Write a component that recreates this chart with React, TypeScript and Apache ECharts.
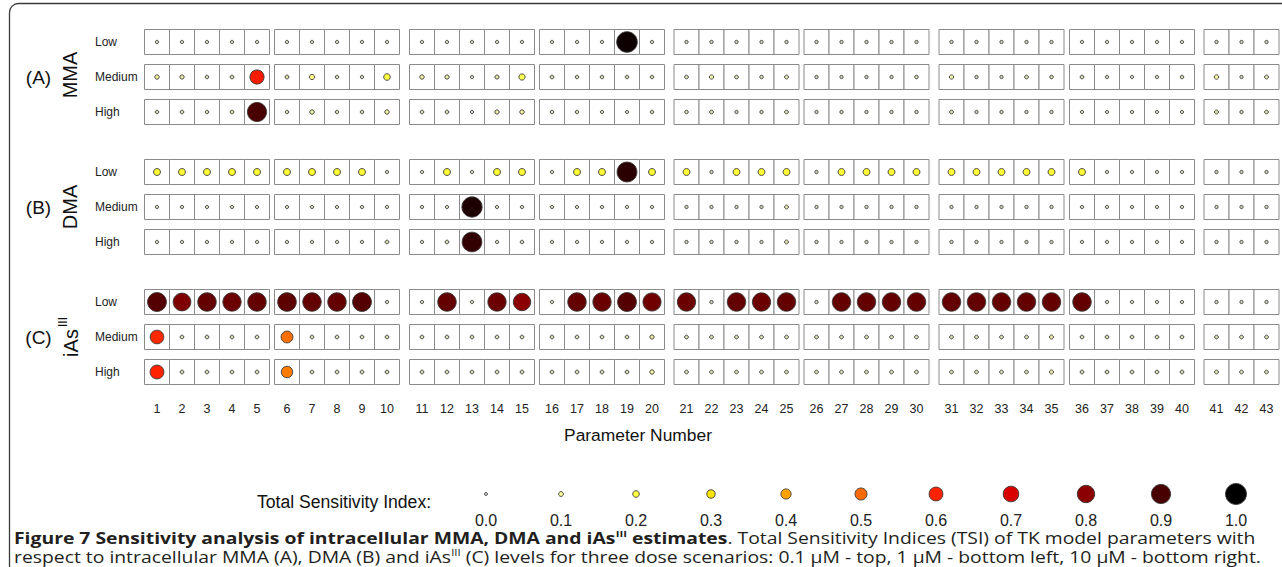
import React, { useEffect, useRef } from 'react';
import * as echarts from 'echarts';

const paramNumbers = ['1','2','3','4','5','6','7','8','9','10','11','12','13','14','15','16','17','18','19','20','21','22','23','24','25','26','27','28','29','30','31','32','33','34','35','36','37','38','39','40','41','42','43'];
const blockSizes = [5, 5, 5, 5, 5, 5, 5, 5, 3];
const doseLevels = ['Low', 'Medium', 'High'];
const groupTags = ['(A)', '(B)', '(C)'];
const groupNames = ['MMA', 'DMA', 'iAs'];

const mmaLow = [0.02,0.02,0.02,0.02,0.02, 0.02,0.02,0.02,0.02,0.02, 0.02,0.02,0.02,0.02,0.02, 0.02,0.02,0.02,0.98,0.02, 0.02,0.02,0.02,0.02,0.02, 0.02,0.02,0.02,0.02,0.02, 0.02,0.02,0.02,0.02,0.02, 0.02,0.02,0.02,0.02,0.02, 0.02,0.02,0.02];
const mmaMedium = [0.08,0.07,0.03,0.04,0.62, 0.05,0.12,0.03,0.02,0.2, 0.08,0.07,0.02,0.06,0.18, 0.04,0.03,0.03,0.03,0.03, 0.04,0.07,0.04,0.03,0.05, 0.02,0.02,0.02,0.02,0.03, 0.07,0.02,0.02,0.04,0.03, 0.04,0.02,0.02,0.02,0.03, 0.08,0.02,0.05];
const mmaHigh = [0.03,0.04,0.03,0.04,0.9, 0.03,0.08,0.03,0.03,0.08, 0.04,0.04,0.02,0.07,0.08, 0.03,0.03,0.02,0.02,0.03, 0.03,0.04,0.02,0.02,0.04, 0.02,0.02,0.02,0.02,0.02, 0.04,0.02,0.02,0.02,0.02, 0.02,0.02,0.02,0.02,0.02, 0.05,0.02,0.04];
const dmaLow = [0.22,0.22,0.22,0.22,0.22, 0.22,0.22,0.22,0.22,0.02, 0.02,0.22,0.02,0.22,0.22, 0.02,0.22,0.22,0.94,0.22, 0.22,0.02,0.22,0.22,0.22, 0.02,0.22,0.22,0.22,0.22, 0.22,0.22,0.22,0.22,0.22, 0.22,0.02,0.02,0.02,0.02, 0.02,0.02,0.02];
const dmaMedium = [0.02,0.02,0.02,0.02,0.02, 0.02,0.02,0.02,0.02,0.02, 0.02,0.02,0.96,0.02,0.02, 0.02,0.02,0.02,0.02,0.02, 0.02,0.02,0.02,0.02,0.05, 0.02,0.02,0.02,0.02,0.02, 0.02,0.02,0.02,0.02,0.02, 0.02,0.02,0.02,0.02,0.02, 0.02,0.02,0.02];
const dmaHigh = [0.02,0.02,0.02,0.02,0.02, 0.02,0.02,0.02,0.02,0.04, 0.02,0.04,0.93,0.02,0.03, 0.02,0.02,0.02,0.02,0.02, 0.02,0.02,0.02,0.02,0.05, 0.02,0.02,0.02,0.02,0.02, 0.02,0.02,0.02,0.02,0.02, 0.02,0.02,0.02,0.02,0.02, 0.02,0.02,0.02];
const iasLow = [0.88,0.82,0.86,0.85,0.86, 0.87,0.86,0.86,0.88,0.02, 0.02,0.86,0.02,0.85,0.8, 0.02,0.86,0.85,0.88,0.84, 0.85,0.02,0.86,0.85,0.86, 0.02,0.86,0.86,0.86,0.86, 0.86,0.86,0.86,0.86,0.86, 0.86,0.02,0.02,0.02,0.02, 0.02,0.02,0.02];
const iasMedium = [0.59,0.04,0.04,0.04,0.04, 0.49,0.04,0.04,0.04,0.04, 0.04,0.04,0.04,0.04,0.04, 0.04,0.04,0.04,0.04,0.07, 0.04,0.04,0.04,0.04,0.04, 0.04,0.04,0.04,0.04,0.04, 0.04,0.04,0.04,0.04,0.06, 0.04,0.04,0.04,0.04,0.04, 0.04,0.04,0.04];
const iasHigh = [0.6,0.04,0.04,0.04,0.04, 0.47,0.04,0.04,0.04,0.04, 0.04,0.04,0.04,0.04,0.04, 0.04,0.04,0.04,0.04,0.08, 0.04,0.04,0.04,0.04,0.04, 0.04,0.04,0.04,0.04,0.04, 0.04,0.04,0.04,0.04,0.06, 0.04,0.04,0.04,0.04,0.04, 0.05,0.04,0.04];

const legendLabels = ['0.0','0.1','0.2','0.3','0.4','0.5','0.6','0.7','0.8','0.9','1.0'];
const legendValues = [0, 0.1, 0.2, 0.3, 0.4, 0.5, 0.6, 0.7, 0.8, 0.9, 1.0];
const tsiColors = ['#c8c8c8','#ffff99','#ffff40','#ffe600','#ffa200','#ff6a00','#ff2200','#d80000','#8b0000','#480000','#000000'];

const groupData = [
  [mmaLow, mmaMedium, mmaHigh],
  [dmaLow, dmaMedium, dmaHigh],
  [iasLow, iasMedium, iasHigh],
];

// layout
const blockLeft = [144.5, 274.5, 409.5, 539.5, 674, 804, 939, 1069.5, 1204];
const groupTop = [24.5, 154.5, 284.5];
const cell = 25;
const band = 35;
const FONT = 'Liberation Sans, Arial, sans-serif';

export default function App() {
  const ref = useRef<HTMLDivElement>(null);
  useEffect(() => {
    const chart = echarts.init(ref.current!, null, { renderer: 'svg' });
    const grid: any[] = [];
    const xAxis: any[] = [];
    const yAxis: any[] = [];
    const series: any[] = [];
    const dotIdx: number[] = [];

    let gi = 0;
    for (let g = 0; g < 3; g++) {
      let start = 0;
      for (let b = 0; b < blockSizes.length; b++) {
        const params = paramNumbers.slice(start, start + blockSizes[b]);
        grid.push({ left: blockLeft[b], top: groupTop[g], width: cell * params.length, height: band * 3 });
        xAxis.push({
          type: 'category', gridIndex: gi, data: params,
          axisLine: { show: false }, axisTick: { show: false }, splitLine: { show: false },
          axisLabel: { show: g === 2, fontSize: 12.5, color: '#222', margin: 13, fontFamily: FONT },
        });
        yAxis.push({
          type: 'category', gridIndex: gi, data: doseLevels, inverse: true,
          axisLine: { show: false }, axisTick: { show: false }, splitLine: { show: false },
          axisLabel: { show: b === 0, fontSize: 12, color: '#222', align: 'left', margin: 49.5, fontFamily: FONT },
        });
        const boxes: any[] = [];
        const dots: any[] = [];
        params.forEach((p, k) => {
          doseLevels.forEach((d, r) => {
            boxes.push([p, d]);
            dots.push([p, d, groupData[g][r][start + k]]);
          });
        });
        series.push({
          type: 'scatter', xAxisIndex: gi, yAxisIndex: gi, symbol: 'rect', symbolSize: [cell, cell],
          data: boxes, silent: true, z: 1,
          itemStyle: { color: '#ffffff', borderColor: '#8a8a8a', borderWidth: 1, opacity: 1 },
        });
        dotIdx.push(series.length);
        series.push({
          type: 'scatter', xAxisIndex: gi, yAxisIndex: gi, symbol: 'circle',
          data: dots, silent: true, z: 2,
          itemStyle: { borderColor: '#3a3a3a', borderWidth: 0.9, opacity: 1 },
        });
        start += blockSizes[b];
        gi++;
      }
    }

    // legend grid
    grid.push({ left: 448.5, top: 484, width: 825, height: 20 });
    xAxis.push({
      type: 'category', gridIndex: gi, data: legendLabels,
      axisLine: { show: false }, axisTick: { show: false }, splitLine: { show: false },
      axisLabel: { fontSize: 16, color: '#222', margin: 8, fontFamily: FONT },
    });
    yAxis.push({ type: 'category', gridIndex: gi, data: [''], show: false });
    dotIdx.push(series.length);
    series.push({
      type: 'scatter', xAxisIndex: gi, yAxisIndex: gi, symbol: 'circle', silent: true,
      data: legendLabels.map((l, i) => [l, '', legendValues[i]]),
      itemStyle: { borderColor: '#3a3a3a', borderWidth: 0.9, opacity: 1 },
    });

    const graphic: any[] = [
      { type: 'rect', silent: true, shape: { x: 9.5, y: 3.5, width: 1400, height: 700, r: 9 }, style: { fill: 'none', stroke: '#3a3a3a', lineWidth: 1.3 } },
      { type: 'text', x: 638, y: 435, style: { text: 'Parameter Number', fontSize: 17.4, fill: '#111', align: 'center', verticalAlign: 'middle', fontFamily: FONT } },
      { type: 'text', x: 257, y: 502, style: { text: 'Total Sensitivity Index:', fontSize: 17.6, fill: '#111', align: 'left', verticalAlign: 'middle', fontFamily: FONT } },
    ];
    const centers = [77, 207, 337];
    for (let g = 0; g < 3; g++) {
      graphic.push({ type: 'text', x: 38.5, y: centers[g], style: { text: groupTags[g], fontSize: 19, fill: '#111', align: 'center', verticalAlign: 'middle', fontFamily: FONT } });
    }
    graphic.push({ type: 'text', x: 70, y: 75, rotation: Math.PI / 2, style: { text: groupNames[0], fontSize: 20, fill: '#111', align: 'center', verticalAlign: 'middle', fontFamily: FONT } });
    graphic.push({ type: 'text', x: 70, y: 207, rotation: Math.PI / 2, style: { text: groupNames[1], fontSize: 20, fill: '#111', align: 'center', verticalAlign: 'middle', fontFamily: FONT } });
    graphic.push({ type: 'text', x: 71, y: 343, rotation: Math.PI / 2, style: { text: groupNames[2], fontSize: 20, fill: '#111', align: 'center', verticalAlign: 'middle', fontFamily: FONT } });
    graphic.push({ type: 'text', x: 63, y: 322, rotation: Math.PI / 2, style: { text: 'III', fontSize: 12, fill: '#111', align: 'center', verticalAlign: 'middle', fontFamily: FONT } });

    const CAP = 'Open Sans, Liberation Sans, sans-serif';
    const CF = 16.2;
    const LH = 18.5;
    graphic.push({
      type: 'text', x: 14, y: 528.5, scaleX: 1.195, scaleY: 1,
      style: {
        text: '{b|Figure 7 Sensitivity analysis of intracellular MMA, DMA and iAs}{bs|III}{b| estimates}{r|. Total Sensitivity Indices (TSI) of TK model parameters with}\n'
          + '{r|respect to intracellular MMA (A), DMA (B) and iAs}{s|III}{r| (C) levels for three dose scenarios: 0.1 µM - top, 1 µM - bottom left, 10 µM - bottom right.}',
        verticalAlign: 'top', align: 'left', fill: '#231f20',
        rich: {
          b: { fontFamily: CAP, fontSize: CF, fontWeight: 'bold', fill: '#231f20', lineHeight: LH },
          bs: { fontFamily: CAP, fontSize: 9.5, fontWeight: 'bold', fill: '#231f20', verticalAlign: 'top', lineHeight: LH },
          r: { fontFamily: CAP, fontSize: CF, fill: '#231f20', lineHeight: LH },
          s: { fontFamily: CAP, fontSize: 9.5, fill: '#231f20', verticalAlign: 'top', lineHeight: LH },
        },
      },
    });

    chart.setOption({
      animation: false,
      backgroundColor: '#ffffff',
      textStyle: { fontFamily: FONT },
      grid, xAxis, yAxis, series, graphic,
      visualMap: {
        type: 'continuous', show: false, min: 0, max: 1, dimension: 2, seriesIndex: dotIdx,
        inRange: { color: tsiColors, symbolSize: [3, 21] },
      },
    });
    return () => chart.dispose();
  }, []);
  return <div ref={ref} style={{ position: 'absolute', left: 0, top: 0, width: 1282, height: 567, background: '#fff' }} />;
}
